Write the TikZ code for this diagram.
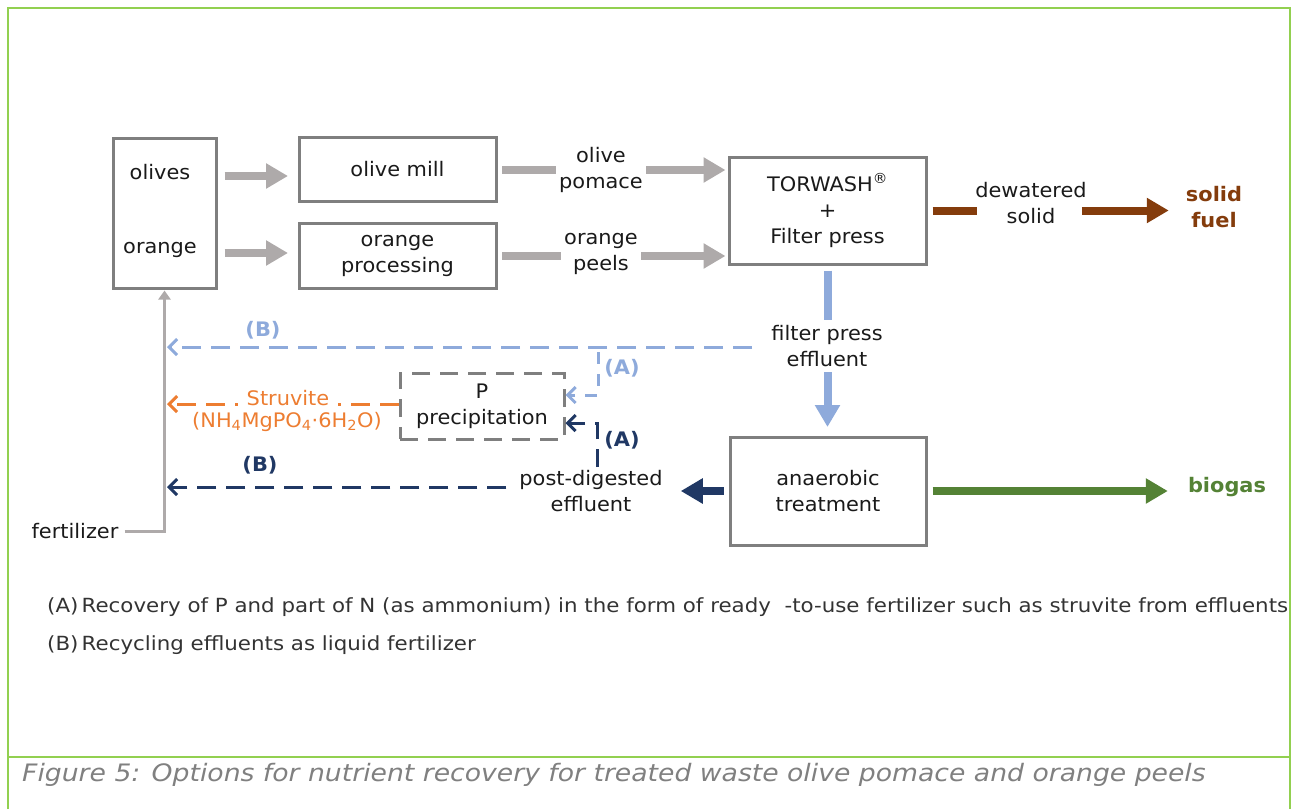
\documentclass[tikz,border=0pt]{standalone}
\usepackage{fontspec}
\setmainfont{DejaVu Sans}[FakeStretch=1.045]
\newfontfamily\legfont{DejaVu Sans}[FakeStretch=1.095]
\newfontfamily\capfont{DejaVu Sans}[FakeStretch=1.11]
\usetikzlibrary{arrows.meta}
\definecolor{boxgray}{HTML}{7F7F7F}
\definecolor{arrgray}{HTML}{AEAAAA}
\definecolor{lblue}{HTML}{8EAADB}
\definecolor{navy}{HTML}{203864}
\definecolor{orng}{HTML}{ED7D31}
\definecolor{brwn}{HTML}{843C0C}
\definecolor{grn}{HTML}{548235}
\definecolor{frame}{HTML}{92D050}
\definecolor{capgray}{HTML}{808080}
\definecolor{txtcol}{HTML}{1A1A1A}
\definecolor{legcol}{HTML}{333333}
\begin{document}
\begin{tikzpicture}[x=1pt,y=-1pt,
  txt/.style={font=\fontsize{20}{26}\selectfont, text=txtcol, align=center, inner sep=3pt},
  lbl/.style={font=\fontsize{20}{26}\selectfont\bfseries, inner sep=1pt},
  box/.style={draw=boxgray, line width=3pt, fill=white, txt},
  dbox/.style={draw=boxgray, line width=3pt, dash pattern=on 18pt off 10pt, txt},
  thick arrow/.style={line width=8pt, -{Triangle[length=22pt,width=24pt]}},
  garrow/.style={thick arrow, draw=arrgray},
  dasharrow/.style={line width=3pt, dash pattern=on 19pt off 10pt, -{Straight Barb[length=8pt,width=16pt]}},
  legend/.style={font=\legfont\fontsize{19.5}{24}\selectfont, text=legcol, anchor=west, inner sep=0pt},
  framel/.style={draw=frame, line width=2.5pt}
]
\useasboundingbox (0,0) rectangle (1293,809);
% frame
\draw[framel] (8,809) -- (8,8) -- (1290,8) -- (1290,809);
\draw[framel] (8,757) -- (1290,757);

% boxes
\node[box, minimum width=103pt, minimum height=150pt] (src) at (164.5,213) {};
\node[txt] (olives) at (160,172) {olives};
\node[txt] (orange) at (160,250) {orange};
\node[box, minimum width=197pt, minimum height=64pt] (omill) at (397.5,169) {olive mill};
\node[box, minimum width=197pt, minimum height=65pt] (orp) at (397.5,256) {orange\\processing};
\node[box, minimum width=197pt, minimum height=107pt] (tw) at (827.5,210.5) {TORWASH\textsuperscript{®}\\+\\Filter press};
\node[box, minimum width=196pt, minimum height=108pt] (an) at (828,491) {anaerobic\\treatment};
\node[dbox, minimum width=164pt, minimum height=66pt] (pp) at (482,406) {P\\precipitation};

% end labels
\node[txt, font=\fontsize{20}{26}\selectfont\bfseries, text=brwn] (sf) at (1214,207) {solid\\fuel};
\node[txt, font=\fontsize{20}{26}\selectfont\bfseries, text=grn] (bg) at (1227,487) {biogas};
\node[txt] (pd) at (591,491) {post-digested\\effluent};
\node[txt] (fert) at (75,531) {fertilizer};

% grey input arrows
\draw[garrow, shorten <=7pt, shorten >=9.5pt] ([yshift=37pt]src.east) -- ([yshift=-7pt]omill.west);
\draw[garrow, shorten <=7pt, shorten >=9.5pt] ([yshift=-40pt]src.east) -- ([yshift=3pt]orp.west);
\draw[garrow, shorten <=4.5pt, shorten >=2pt] ([yshift=-1pt]omill.east) -- ([yshift=40.5pt]tw.west);
\draw[garrow, shorten <=4.5pt, shorten >=2pt] ([yshift=0pt]orp.east) -- ([yshift=-45.5pt]tw.west);
\node[txt, fill=white] (op) at (601,170) {olive\\pomace};
\node[txt, fill=white] (opl) at (601,254) {orange\\peels};

% solid fuel
\node[txt, inner xsep=0pt] (dw) at (1031,203) {dewatered\\solid};
\draw[draw=brwn, line width=8pt, shorten <=5pt, shorten >=-2pt] (tw.east) -- (tw.east -| dw.west);
\draw[thick arrow, draw=brwn, shorten <=-5pt, shorten >=14pt] (tw.east -| dw.east) -- (tw.east -| sf.west);

% biogas
\draw[thick arrow, draw=grn, shorten <=5pt, shorten >=17pt] (an.east) -- (an.east -| bg.west);

% post-digested
\draw[thick arrow, draw=navy, shorten <=5pt, shorten >=15pt] (an.west) -- (an.west -| pd.east);

% filter press effluent
\draw[thick arrow, draw=lblue, shorten <=5pt, shorten >=8.5pt] (tw.south) -- (tw.south |- an.north);
\node[txt, fill=white, inner ysep=5pt] (fp) at (827,346) {filter press\\effluent};

% fertilizer line
\draw[draw=arrgray, line width=3pt, -{Triangle[length=9pt,width=12pt]}, shorten <=3pt, shorten >=1pt] (fert.east) -| (src.south);

% (B) light blue
\draw[dasharrow, draw=lblue, shorten <=16pt, shorten >=2.5pt] ([yshift=-1pt]fp.west) -- ([yshift=-1pt]fp.west -| src.south);
\node[lbl, text=lblue] (lbB) at (263,330) {(B)};
% (A) light blue
\coordinate (lbA) at (598,352);
\draw[dasharrow, draw=lblue, dash pattern=on 12pt off 10pt, shorten >=0pt] (lbA) |- ([yshift=11pt]pp.east);
\node[lbl, text=lblue] (lbAl) at (622,368) {(A)};

% (A) navy
\draw[dasharrow, draw=navy, dash pattern=on 18pt off 10pt] ([xshift=6pt]pd.north) |- ([yshift=-17pt]pp.east);
\node[lbl, text=navy] (nvAl) at (622,440) {(A)};
% (B) navy
\draw[dasharrow, draw=navy, shorten <=10pt, shorten >=2.5pt] ([yshift=4pt]pd.west) -- ([yshift=4pt]pd.west -| src.south);
\node[lbl, text=navy] (nvBl) at (260,465) {(B)};

% struvite
\draw[dasharrow, draw=orng, shorten <=0pt, shorten >=2.5pt] ([yshift=2pt]pp.west) -- ([yshift=2pt]pp.west -| src.south);
\node[txt, text=orng, fill=white, inner xsep=9pt, inner ysep=2pt] (stru) at (288,398) {Struvite};
\node[txt, text=orng] (form) at (287,422) {(NH\textsubscript{4}MgPO\textsubscript{4}·6H\textsubscript{2}O)};

% legend
\node[legend] (legA) at (47,607) {(A)\,Recovery of P and part of N (as ammonium) in the form of ready\ \ -to-use fertilizer such as struvite from effluents};
\node[legend] (legB) at (47,645) {(B)\,Recycling effluents as liquid fertilizer};

% caption
\node[anchor=west, inner sep=0pt, font=\capfont\fontsize{24}{28}\selectfont\itshape, text=capgray] (cap) at (22,775) {Figure 5: Options for nutrient recovery for treated waste olive pomace and orange peels};
\end{tikzpicture}
\end{document}
